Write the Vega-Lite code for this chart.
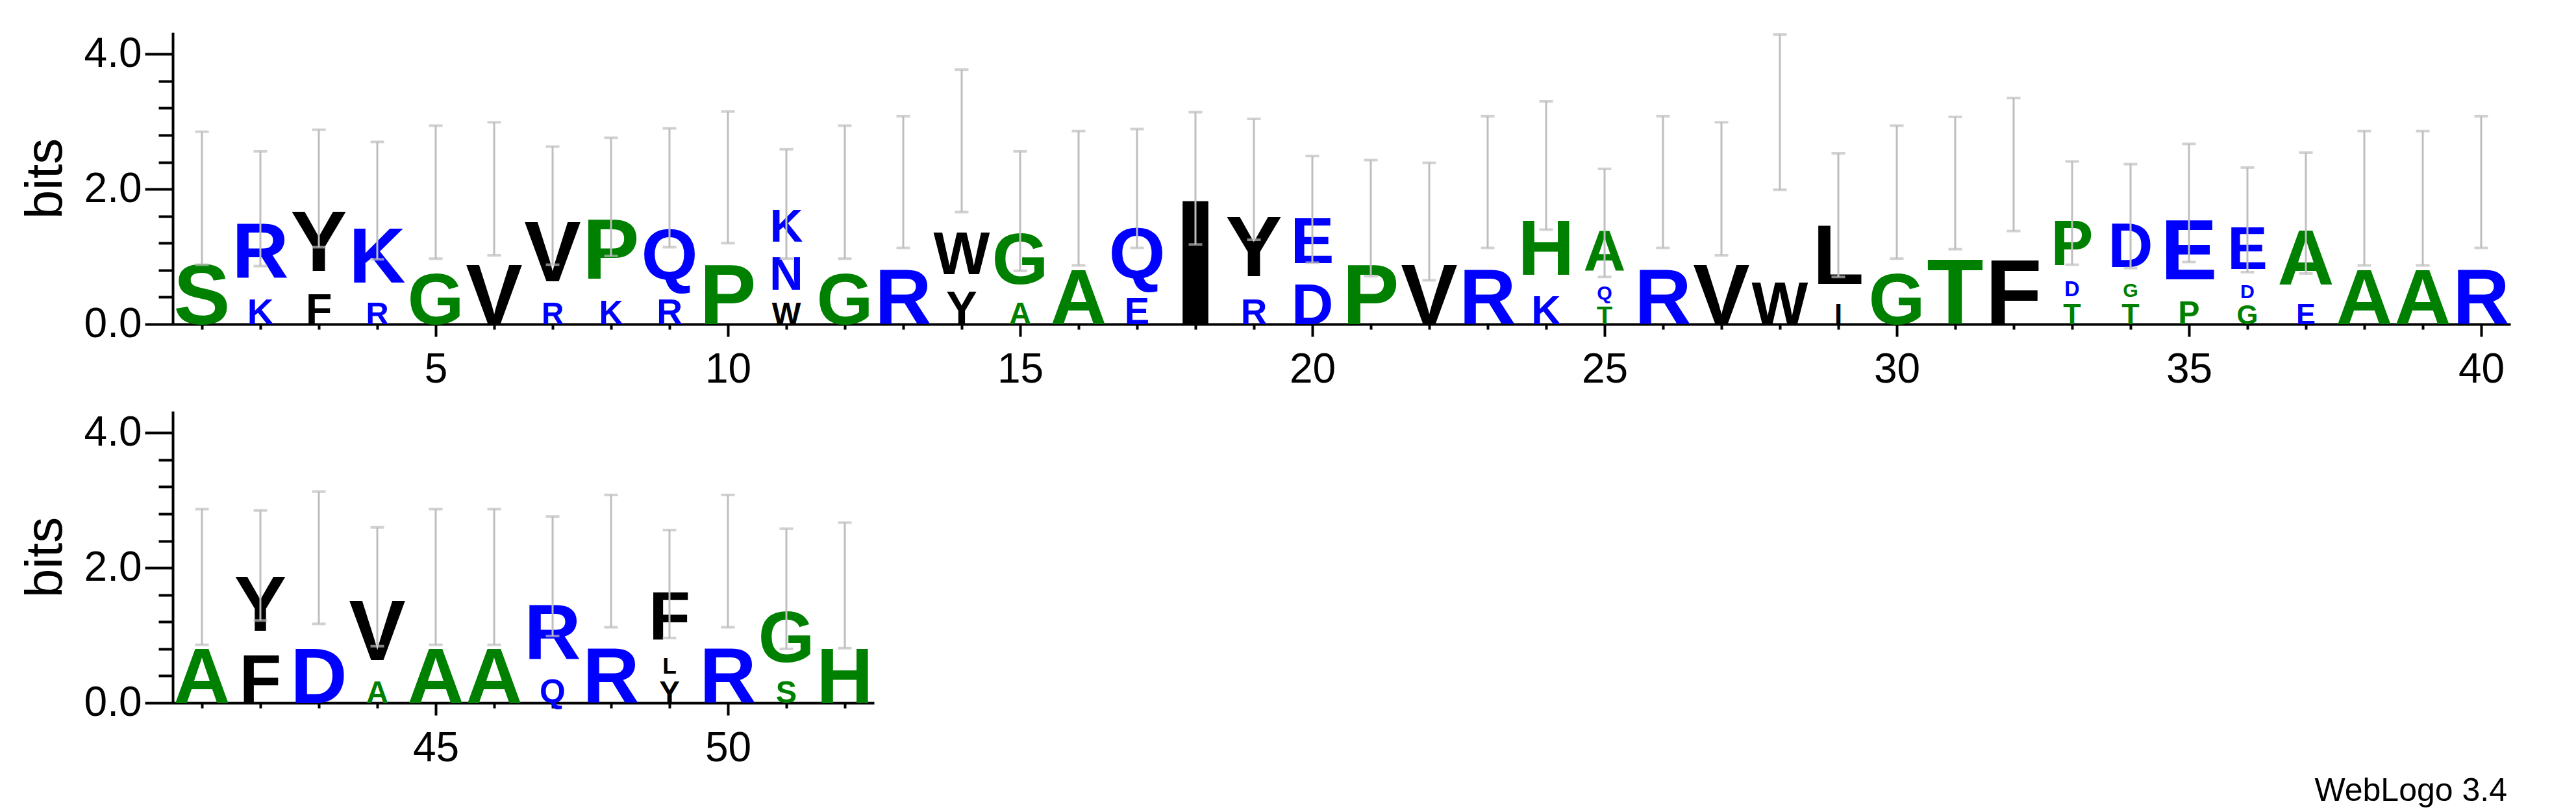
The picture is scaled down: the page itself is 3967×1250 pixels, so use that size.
{
  "$schema": "https://vega.github.io/schema/vega-lite/v6.json",
  "autosize": {"type": "none"},
  "padding": {"left": 266, "top": 50, "right": 3701, "bottom": 1200},
  "background": "white",
  "spacing": 134,
  "bounds": "flush",
  "title": {"text": "WebLogo 3.4", "orient": "bottom", "anchor": "end", "font": "Liberation Sans", "fontSize": 50, "fontWeight": "normal", "color": "black", "offset": 9, "dx": -5},
  "config": {
    "view": {"stroke": null},
    "text": {"font": "Liberation Sans", "fontWeight": "bold", "align": "center"},
    "axis": {"domainColor": "black", "domainWidth": 4, "tickColor": "black", "tickWidth": 4, "labelFont": "Liberation Sans", "labelFontSize": 64, "labelColor": "black", "titleFont": "Liberation Sans", "titleFontSize": 80, "titleFontWeight": "normal", "titleColor": "black", "grid": false, "labelFlush": false, "labelOverlap": false}
  },
  "datasets": {
    "letters": [
      {"pos":1,"letter":"S","bits":1.86,"rank":1},
      {"pos":2,"letter":"K","bits":0.44,"rank":1},{"pos":2,"letter":"R","bits":1.27,"rank":2},
      {"pos":3,"letter":"F","bits":0.52,"rank":1},{"pos":3,"letter":"Y","bits":1.48,"rank":2},
      {"pos":4,"letter":"R","bits":0.38,"rank":1},{"pos":4,"letter":"K","bits":1.44,"rank":2},
      {"pos":5,"letter":"G","bits":1.95,"rank":1},
      {"pos":6,"letter":"V","bits":2.0,"rank":1},
      {"pos":7,"letter":"R","bits":0.37,"rank":1},{"pos":7,"letter":"V","bits":1.38,"rank":2},
      {"pos":8,"letter":"K","bits":0.40,"rank":1},{"pos":8,"letter":"P","bits":1.48,"rank":2},
      {"pos":9,"letter":"R","bits":0.43,"rank":1},{"pos":9,"letter":"Q","bits":1.59,"rank":2},
      {"pos":10,"letter":"P","bits":2.17,"rank":1},
      {"pos":11,"letter":"W","bits":0.37,"rank":1},{"pos":11,"letter":"N","bits":0.71,"rank":2},{"pos":11,"letter":"K","bits":0.70,"rank":3},
      {"pos":12,"letter":"G","bits":1.95,"rank":1},
      {"pos":13,"letter":"R","bits":2.10,"rank":1},
      {"pos":14,"letter":"Y","bits":0.56,"rank":1},{"pos":14,"letter":"W","bits":2.16,"rank":2},
      {"pos":15,"letter":"A","bits":0.37,"rank":1},{"pos":15,"letter":"G","bits":1.30,"rank":2},
      {"pos":16,"letter":"A","bits":1.86,"rank":1},
      {"pos":17,"letter":"E","bits":0.45,"rank":1},{"pos":17,"letter":"Q","bits":1.56,"rank":2},
      {"pos":18,"letter":"I","bits":2.15,"rank":1},
      {"pos":19,"letter":"R","bits":0.44,"rank":1},{"pos":19,"letter":"Y","bits":1.70,"rank":2},
      {"pos":20,"letter":"D","bits":0.70,"rank":1},{"pos":20,"letter":"E","bits":1.00,"rank":2},
      {"pos":21,"letter":"P","bits":1.57,"rank":1},
      {"pos":22,"letter":"V","bits":1.52,"rank":1},
      {"pos":23,"letter":"R","bits":2.11,"rank":1},
      {"pos":24,"letter":"K","bits":0.49,"rank":1},{"pos":24,"letter":"H","bits":1.86,"rank":2},
      {"pos":25,"letter":"T","bits":0.31,"rank":1},{"pos":25,"letter":"Q","bits":0.30,"rank":2},{"pos":25,"letter":"A","bits":0.89,"rank":3},
      {"pos":26,"letter":"R","bits":2.11,"rank":1},
      {"pos":27,"letter":"V","bits":2.01,"rank":1},
      {"pos":28,"letter":"W","bits":3.14,"rank":1},
      {"pos":29,"letter":"I","bits":0.34,"rank":1},{"pos":29,"letter":"L","bits":1.28,"rank":2},
      {"pos":30,"letter":"G","bits":1.95,"rank":1},
      {"pos":31,"letter":"T","bits":2.09,"rank":1},
      {"pos":32,"letter":"F","bits":2.35,"rank":1},
      {"pos":33,"letter":"T","bits":0.35,"rank":1},{"pos":33,"letter":"D","bits":0.32,"rank":2},{"pos":33,"letter":"P","bits":0.97,"rank":3},
      {"pos":34,"letter":"T","bits":0.35,"rank":1},{"pos":34,"letter":"G","bits":0.30,"rank":2},{"pos":34,"letter":"D","bits":0.95,"rank":3},
      {"pos":35,"letter":"P","bits":0.39,"rank":1},{"pos":35,"letter":"E","bits":1.41,"rank":2},
      {"pos":36,"letter":"G","bits":0.33,"rank":1},{"pos":36,"letter":"D","bits":0.30,"rank":2},{"pos":36,"letter":"E","bits":0.92,"rank":3},
      {"pos":37,"letter":"E","bits":0.35,"rank":1},{"pos":37,"letter":"A","bits":1.29,"rank":2},
      {"pos":38,"letter":"A","bits":1.86,"rank":1},
      {"pos":39,"letter":"A","bits":1.86,"rank":1},
      {"pos":40,"letter":"R","bits":2.11,"rank":1},
      {"pos":41,"letter":"A","bits":1.86,"rank":1},
      {"pos":42,"letter":"F","bits":0.83,"rank":1},{"pos":42,"letter":"Y","bits":1.20,"rank":2},
      {"pos":43,"letter":"D","bits":2.15,"rank":1},
      {"pos":44,"letter":"A","bits":0.37,"rank":1},{"pos":44,"letter":"V","bits":1.35,"rank":2},
      {"pos":45,"letter":"A","bits":1.86,"rank":1},
      {"pos":46,"letter":"A","bits":1.86,"rank":1},
      {"pos":47,"letter":"Q","bits":0.40,"rank":1},{"pos":47,"letter":"R","bits":1.48,"rank":2},
      {"pos":48,"letter":"R","bits":2.10,"rank":1},
      {"pos":49,"letter":"Y","bits":0.37,"rank":1},{"pos":49,"letter":"L","bits":0.35,"rank":2},{"pos":49,"letter":"F","bits":1.04,"rank":3},
      {"pos":50,"letter":"R","bits":2.10,"rank":1},
      {"pos":51,"letter":"S","bits":0.38,"rank":1},{"pos":51,"letter":"G","bits":1.31,"rank":2},
      {"pos":52,"letter":"H","bits":1.74,"rank":1}
    ],
    "errs": [
      {"pos":1,"lo":0.88,"hi":2.85},{"pos":2,"lo":0.86,"hi":2.56},{"pos":3,"lo":1.14,"hi":2.88},{"pos":4,"lo":0.96,"hi":2.70},
      {"pos":5,"lo":0.97,"hi":2.94},{"pos":6,"lo":1.02,"hi":2.99},{"pos":7,"lo":0.88,"hi":2.63},{"pos":8,"lo":1.01,"hi":2.76},
      {"pos":9,"lo":1.14,"hi":2.90},{"pos":10,"lo":1.20,"hi":3.15},{"pos":11,"lo":0.97,"hi":2.59},{"pos":12,"lo":0.97,"hi":2.94},
      {"pos":13,"lo":1.13,"hi":3.08},{"pos":14,"lo":1.66,"hi":3.77},{"pos":15,"lo":0.79,"hi":2.56},{"pos":16,"lo":0.87,"hi":2.86},
      {"pos":17,"lo":1.13,"hi":2.89},{"pos":18,"lo":1.18,"hi":3.14},{"pos":19,"lo":1.25,"hi":3.04},{"pos":20,"lo":0.91,"hi":2.49},
      {"pos":21,"lo":0.71,"hi":2.43},{"pos":22,"lo":0.65,"hi":2.39},{"pos":23,"lo":1.13,"hi":3.08},{"pos":24,"lo":1.40,"hi":3.30},
      {"pos":25,"lo":0.70,"hi":2.30},{"pos":26,"lo":1.13,"hi":3.08},{"pos":27,"lo":1.02,"hi":2.99},{"pos":28,"lo":1.99,"hi":4.29},
      {"pos":29,"lo":0.70,"hi":2.53},{"pos":30,"lo":0.97,"hi":2.94},{"pos":31,"lo":1.11,"hi":3.07},{"pos":32,"lo":1.38,"hi":3.35},
      {"pos":33,"lo":0.88,"hi":2.41},{"pos":34,"lo":0.83,"hi":2.37},{"pos":35,"lo":0.92,"hi":2.67},{"pos":36,"lo":0.77,"hi":2.32},
      {"pos":37,"lo":0.75,"hi":2.54},{"pos":38,"lo":0.87,"hi":2.86},{"pos":39,"lo":0.87,"hi":2.86},{"pos":40,"lo":1.13,"hi":3.08},
      {"pos":41,"lo":0.86,"hi":2.87},{"pos":42,"lo":1.22,"hi":2.85},{"pos":43,"lo":1.17,"hi":3.13},{"pos":44,"lo":0.84,"hi":2.60},
      {"pos":45,"lo":0.86,"hi":2.87},{"pos":46,"lo":0.86,"hi":2.87},{"pos":47,"lo":0.99,"hi":2.76},{"pos":48,"lo":1.12,"hi":3.08},
      {"pos":49,"lo":0.96,"hi":2.56},{"pos":50,"lo":1.12,"hi":3.08},{"pos":51,"lo":0.80,"hi":2.58},{"pos":52,"lo":0.81,"hi":2.67}
    ]
  },
  "vconcat": [
    {
      "width": 3600,
      "height": 449,
      "resolve": {"scale": {"size": "independent"}},
      "layer": [
        {
          "data": {"name": "errs"},
          "transform": [{"filter": "datum.pos <= 40"}],
          "mark": {"type": "rule", "color": "#ffffff", "strokeWidth": 0, "opacity": 0},
          "encoding": {
            "x": {"field": "pos", "type": "quantitative", "scale": {"domain": [0.5, 40.5], "nice": false, "zero": false},
                  "axis": {"title": null, "format": "d", "values": [1,2,3,4,5,6,7,8,9,10,11,12,13,14,15,16,17,18,19,20,21,22,23,24,25,26,27,28,29,30,31,32,33,34,35,36,37,38,39,40],
                           "labelExpr": "datum.value % 5 === 0 ? datum.label : ''",
                           "tickSize": {"condition": {"test": "datum.value % 5 === 0", "value": 19}, "value": 8},
                           "labelPadding": 19}},
            "y": {"field": "lo", "type": "quantitative", "scale": {"domain": [0, 4.32], "nice": false},
                  "axis": {"title": "bits", "values": [0,0.2,0.4,0.6,0.8,1,1.2,1.4,1.6,1.8,2,2.2,2.4,2.6,2.8,3,3.2,3.4,3.6,3.8,4,4.2],
                           "labelExpr": "datum.value % 1 === 0 ? format(datum.value, '.1f') : ''",
                           "tickSize": {"condition": {"test": "datum.value % 1 === 0", "value": 43}, "value": 22},
                           "labelPadding": 5, "titlePadding": 18}},
            "y2": {"field": "lo"}
          }
        },
        {
          "data": {"name": "letters"},
          "transform": [{"filter": "datum.pos <= 40"}, {"stack": "bits", "groupby": ["pos"], "sort": [{"field": "rank", "order": "ascending"}], "as": ["b0", "b1"]}, {"filter": {"field": "letter", "oneOf": ["W"]}}, {"filter": "datum.rank == 1"}],
          "mark": {"type": "text", "baseline": "alphabetic"},
          "encoding": {
            "x": {"field": "pos", "type": "quantitative"}, "y": {"field": "b0", "type": "quantitative"}, "text": {"field": "letter", "type": "nominal"},
            "color": {"field": "letter", "type": "nominal", "legend": null, "scale": {"domain": ["A","D","E","F","G","H","I","K","L","N","P","Q","R","S","T","V","W","Y"], "range": ["#008000","#0000ff","#0000ff","#000000","#008000","#008000","#000000","#0000ff","#000000","#0000ff","#008000","#0000ff","#0000ff","#008000","#008000","#000000","#000000","#000000"]}},
            "size": {"field": "bits", "type": "quantitative", "legend": null, "scale": {"domain": [0, 0.719], "range": [0, 92], "clamp": true}}
          }
        },
        {
          "data": {"name": "letters"},
          "transform": [{"filter": "datum.pos <= 40"}, {"stack": "bits", "groupby": ["pos"], "sort": [{"field": "rank", "order": "ascending"}], "as": ["b0", "b1"]}, {"filter": {"field": "letter", "oneOf": ["W"]}}, {"filter": "datum.rank > 1"}],
          "mark": {"type": "text", "baseline": "bottom"},
          "encoding": {
            "x": {"field": "pos", "type": "quantitative"}, "y": {"field": "b0", "type": "quantitative"}, "text": {"field": "letter", "type": "nominal"},
            "color": {"field": "letter", "type": "nominal", "legend": null, "scale": {"domain": ["A","D","E","F","G","H","I","K","L","N","P","Q","R","S","T","V","W","Y"], "range": ["#008000","#0000ff","#0000ff","#000000","#008000","#008000","#000000","#0000ff","#000000","#0000ff","#008000","#0000ff","#0000ff","#008000","#008000","#000000","#000000","#000000"]}},
            "size": {"field": "bits", "type": "quantitative", "legend": null, "scale": {"domain": [0, 0.911], "range": [0, 92], "clamp": true}}
          }
        },
        {
          "data": {"name": "letters"},
          "transform": [{"filter": "datum.pos <= 40"}, {"stack": "bits", "groupby": ["pos"], "sort": [{"field": "rank", "order": "ascending"}], "as": ["b0", "b1"]}, {"filter": {"field": "letter", "oneOf": ["G","Q"]}}, {"filter": "datum.rank == 1"}],
          "mark": {"type": "text", "baseline": "alphabetic"},
          "encoding": {
            "x": {"field": "pos", "type": "quantitative"}, "y": {"field": "b0", "type": "quantitative"}, "text": {"field": "letter", "type": "nominal"},
            "color": {"field": "letter", "type": "nominal", "legend": null, "scale": {"domain": ["A","D","E","F","G","H","I","K","L","N","P","Q","R","S","T","V","W","Y"], "range": ["#008000","#0000ff","#0000ff","#000000","#008000","#008000","#000000","#0000ff","#000000","#0000ff","#008000","#0000ff","#0000ff","#008000","#008000","#000000","#000000","#000000"]}},
            "size": {"field": "bits", "type": "quantitative", "legend": null, "scale": {"domain": [0, 0.875], "range": [0, 112], "clamp": true}}
          }
        },
        {
          "data": {"name": "letters"},
          "transform": [{"filter": "datum.pos <= 40"}, {"stack": "bits", "groupby": ["pos"], "sort": [{"field": "rank", "order": "ascending"}], "as": ["b0", "b1"]}, {"filter": {"field": "letter", "oneOf": ["G","Q"]}}, {"filter": "datum.rank > 1"}],
          "mark": {"type": "text", "baseline": "bottom"},
          "encoding": {
            "x": {"field": "pos", "type": "quantitative"}, "y": {"field": "b0", "type": "quantitative"}, "text": {"field": "letter", "type": "nominal"},
            "color": {"field": "letter", "type": "nominal", "legend": null, "scale": {"domain": ["A","D","E","F","G","H","I","K","L","N","P","Q","R","S","T","V","W","Y"], "range": ["#008000","#0000ff","#0000ff","#000000","#008000","#008000","#000000","#0000ff","#000000","#0000ff","#008000","#0000ff","#0000ff","#008000","#008000","#000000","#000000","#000000"]}},
            "size": {"field": "bits", "type": "quantitative", "legend": null, "scale": {"domain": [0, 1.109], "range": [0, 112], "clamp": true}}
          }
        },
        {
          "data": {"name": "letters"},
          "transform": [{"filter": "datum.pos <= 40"}, {"stack": "bits", "groupby": ["pos"], "sort": [{"field": "rank", "order": "ascending"}], "as": ["b0", "b1"]}, {"filter": {"field": "letter", "oneOf": ["A","D","H","K","N","R"]}}, {"filter": "datum.rank == 1"}],
          "mark": {"type": "text", "baseline": "alphabetic"},
          "encoding": {
            "x": {"field": "pos", "type": "quantitative"}, "y": {"field": "b0", "type": "quantitative"}, "text": {"field": "letter", "type": "nominal"},
            "color": {"field": "letter", "type": "nominal", "legend": null, "scale": {"domain": ["A","D","E","F","G","H","I","K","L","N","P","Q","R","S","T","V","W","Y"], "range": ["#008000","#0000ff","#0000ff","#000000","#008000","#008000","#000000","#0000ff","#000000","#0000ff","#008000","#0000ff","#0000ff","#008000","#008000","#000000","#000000","#000000"]}},
            "size": {"field": "bits", "type": "quantitative", "legend": null, "scale": {"domain": [0, 0.945], "range": [0, 121], "clamp": true}}
          }
        },
        {
          "data": {"name": "letters"},
          "transform": [{"filter": "datum.pos <= 40"}, {"stack": "bits", "groupby": ["pos"], "sort": [{"field": "rank", "order": "ascending"}], "as": ["b0", "b1"]}, {"filter": {"field": "letter", "oneOf": ["A","D","H","K","N","R"]}}, {"filter": "datum.rank > 1"}],
          "mark": {"type": "text", "baseline": "bottom"},
          "encoding": {
            "x": {"field": "pos", "type": "quantitative"}, "y": {"field": "b0", "type": "quantitative"}, "text": {"field": "letter", "type": "nominal"},
            "color": {"field": "letter", "type": "nominal", "legend": null, "scale": {"domain": ["A","D","E","F","G","H","I","K","L","N","P","Q","R","S","T","V","W","Y"], "range": ["#008000","#0000ff","#0000ff","#000000","#008000","#008000","#000000","#0000ff","#000000","#0000ff","#008000","#0000ff","#0000ff","#008000","#008000","#000000","#000000","#000000"]}},
            "size": {"field": "bits", "type": "quantitative", "legend": null, "scale": {"domain": [0, 1.198], "range": [0, 121], "clamp": true}}
          }
        },
        {
          "data": {"name": "letters"},
          "transform": [{"filter": "datum.pos <= 40"}, {"stack": "bits", "groupby": ["pos"], "sort": [{"field": "rank", "order": "ascending"}], "as": ["b0", "b1"]}, {"filter": {"field": "letter", "oneOf": ["E","P","S","V","Y"]}}, {"filter": "datum.rank == 1"}],
          "mark": {"type": "text", "baseline": "alphabetic"},
          "encoding": {
            "x": {"field": "pos", "type": "quantitative"}, "y": {"field": "b0", "type": "quantitative"}, "text": {"field": "letter", "type": "nominal"},
            "color": {"field": "letter", "type": "nominal", "legend": null, "scale": {"domain": ["A","D","E","F","G","H","I","K","L","N","P","Q","R","S","T","V","W","Y"], "range": ["#008000","#0000ff","#0000ff","#000000","#008000","#008000","#000000","#0000ff","#000000","#0000ff","#008000","#0000ff","#0000ff","#008000","#008000","#000000","#000000","#000000"]}},
            "size": {"field": "bits", "type": "quantitative", "legend": null, "scale": {"domain": [0, 1.023], "range": [0, 131], "clamp": true}}
          }
        },
        {
          "data": {"name": "letters"},
          "transform": [{"filter": "datum.pos <= 40"}, {"stack": "bits", "groupby": ["pos"], "sort": [{"field": "rank", "order": "ascending"}], "as": ["b0", "b1"]}, {"filter": {"field": "letter", "oneOf": ["E","P","S","V","Y"]}}, {"filter": "datum.rank > 1"}],
          "mark": {"type": "text", "baseline": "bottom"},
          "encoding": {
            "x": {"field": "pos", "type": "quantitative"}, "y": {"field": "b0", "type": "quantitative"}, "text": {"field": "letter", "type": "nominal"},
            "color": {"field": "letter", "type": "nominal", "legend": null, "scale": {"domain": ["A","D","E","F","G","H","I","K","L","N","P","Q","R","S","T","V","W","Y"], "range": ["#008000","#0000ff","#0000ff","#000000","#008000","#008000","#000000","#0000ff","#000000","#0000ff","#008000","#0000ff","#0000ff","#008000","#008000","#000000","#000000","#000000"]}},
            "size": {"field": "bits", "type": "quantitative", "legend": null, "scale": {"domain": [0, 1.297], "range": [0, 131], "clamp": true}}
          }
        },
        {
          "data": {"name": "letters"},
          "transform": [{"filter": "datum.pos <= 40"}, {"stack": "bits", "groupby": ["pos"], "sort": [{"field": "rank", "order": "ascending"}], "as": ["b0", "b1"]}, {"filter": {"field": "letter", "oneOf": ["F","L","T"]}}, {"filter": "datum.rank == 1"}],
          "mark": {"type": "text", "baseline": "alphabetic"},
          "encoding": {
            "x": {"field": "pos", "type": "quantitative"}, "y": {"field": "b0", "type": "quantitative"}, "text": {"field": "letter", "type": "nominal"},
            "color": {"field": "letter", "type": "nominal", "legend": null, "scale": {"domain": ["A","D","E","F","G","H","I","K","L","N","P","Q","R","S","T","V","W","Y"], "range": ["#008000","#0000ff","#0000ff","#000000","#008000","#008000","#000000","#0000ff","#000000","#0000ff","#008000","#0000ff","#0000ff","#008000","#008000","#000000","#000000","#000000"]}},
            "size": {"field": "bits", "type": "quantitative", "legend": null, "scale": {"domain": [0, 1.117], "range": [0, 143], "clamp": true}}
          }
        },
        {
          "data": {"name": "letters"},
          "transform": [{"filter": "datum.pos <= 40"}, {"stack": "bits", "groupby": ["pos"], "sort": [{"field": "rank", "order": "ascending"}], "as": ["b0", "b1"]}, {"filter": {"field": "letter", "oneOf": ["F","L","T"]}}, {"filter": "datum.rank > 1"}],
          "mark": {"type": "text", "baseline": "bottom"},
          "encoding": {
            "x": {"field": "pos", "type": "quantitative"}, "y": {"field": "b0", "type": "quantitative"}, "text": {"field": "letter", "type": "nominal"},
            "color": {"field": "letter", "type": "nominal", "legend": null, "scale": {"domain": ["A","D","E","F","G","H","I","K","L","N","P","Q","R","S","T","V","W","Y"], "range": ["#008000","#0000ff","#0000ff","#000000","#008000","#008000","#000000","#0000ff","#000000","#0000ff","#008000","#0000ff","#0000ff","#008000","#008000","#000000","#000000","#000000"]}},
            "size": {"field": "bits", "type": "quantitative", "legend": null, "scale": {"domain": [0, 1.416], "range": [0, 143], "clamp": true}}
          }
        },
        {
          "data": {"name": "letters"},
          "transform": [{"filter": "datum.pos <= 40"}, {"stack": "bits", "groupby": ["pos"], "sort": [{"field": "rank", "order": "ascending"}], "as": ["b0", "b1"]}, {"filter": {"field": "letter", "oneOf": ["I"]}}, {"filter": "datum.rank == 1"}],
          "mark": {"type": "text", "baseline": "alphabetic"},
          "encoding": {
            "x": {"field": "pos", "type": "quantitative"}, "y": {"field": "b0", "type": "quantitative"}, "text": {"field": "letter", "type": "nominal"},
            "color": {"field": "letter", "type": "nominal", "legend": null, "scale": {"domain": ["A","D","E","F","G","H","I","K","L","N","P","Q","R","S","T","V","W","Y"], "range": ["#008000","#0000ff","#0000ff","#000000","#008000","#008000","#000000","#0000ff","#000000","#0000ff","#008000","#0000ff","#0000ff","#008000","#008000","#000000","#000000","#000000"]}},
            "size": {"field": "bits", "type": "quantitative", "legend": null, "scale": {"domain": [0, 2.344], "range": [0, 300], "clamp": true}}
          }
        },
        {
          "data": {"name": "errs"},
          "transform": [{"filter": "datum.pos <= 40"}],
          "mark": {"type": "rule", "color": "#bebebe", "strokeWidth": 3},
          "encoding": {"x": {"field": "pos", "type": "quantitative"}, "y": {"field": "lo", "type": "quantitative"}, "y2": {"field": "hi"}}
        },
        {
          "data": {"name": "errs"},
          "transform": [{"filter": "datum.pos <= 40"}],
          "mark": {"type": "tick", "orient": "horizontal", "color": "#bebebe", "size": 21, "thickness": 4},
          "encoding": {"x": {"field": "pos", "type": "quantitative"}, "y": {"field": "lo", "type": "quantitative"}}
        },
        {
          "data": {"name": "errs"},
          "transform": [{"filter": "datum.pos <= 40"}],
          "mark": {"type": "tick", "orient": "horizontal", "color": "#bebebe", "size": 21, "thickness": 4},
          "encoding": {"x": {"field": "pos", "type": "quantitative"}, "y": {"field": "hi", "type": "quantitative"}}
        }
      ]
    },
    {
      "width": 1080,
      "height": 449,
      "resolve": {"scale": {"size": "independent"}},
      "layer": [
        {
          "data": {"name": "errs"},
          "transform": [{"filter": "datum.pos > 40"}],
          "mark": {"type": "rule", "color": "#ffffff", "strokeWidth": 0, "opacity": 0},
          "encoding": {
            "x": {"field": "pos", "type": "quantitative", "scale": {"domain": [40.5, 52.5], "nice": false, "zero": false},
                  "axis": {"title": null, "format": "d", "values": [41,42,43,44,45,46,47,48,49,50,51,52],
                           "labelExpr": "datum.value % 5 === 0 ? datum.label : ''",
                           "tickSize": {"condition": {"test": "datum.value % 5 === 0", "value": 19}, "value": 8},
                           "labelPadding": 19}},
            "y": {"field": "lo", "type": "quantitative", "scale": {"domain": [0, 4.32], "nice": false},
                  "axis": {"title": "bits", "values": [0,0.2,0.4,0.6,0.8,1,1.2,1.4,1.6,1.8,2,2.2,2.4,2.6,2.8,3,3.2,3.4,3.6,3.8,4,4.2],
                           "labelExpr": "datum.value % 1 === 0 ? format(datum.value, '.1f') : ''",
                           "tickSize": {"condition": {"test": "datum.value % 1 === 0", "value": 43}, "value": 22},
                           "labelPadding": 5, "titlePadding": 18}},
            "y2": {"field": "lo"}
          }
        },
        {
          "data": {"name": "letters"},
          "transform": [{"filter": "datum.pos > 40"}, {"stack": "bits", "groupby": ["pos"], "sort": [{"field": "rank", "order": "ascending"}], "as": ["b0", "b1"]}, {"filter": {"field": "letter", "oneOf": ["G","Q"]}}, {"filter": "datum.rank == 1"}],
          "mark": {"type": "text", "baseline": "alphabetic"},
          "encoding": {
            "x": {"field": "pos", "type": "quantitative"}, "y": {"field": "b0", "type": "quantitative"}, "text": {"field": "letter", "type": "nominal"},
            "color": {"field": "letter", "type": "nominal", "legend": null, "scale": {"domain": ["A","D","E","F","G","H","I","K","L","N","P","Q","R","S","T","V","W","Y"], "range": ["#008000","#0000ff","#0000ff","#000000","#008000","#008000","#000000","#0000ff","#000000","#0000ff","#008000","#0000ff","#0000ff","#008000","#008000","#000000","#000000","#000000"]}},
            "size": {"field": "bits", "type": "quantitative", "legend": null, "scale": {"domain": [0, 0.875], "range": [0, 112], "clamp": true}}
          }
        },
        {
          "data": {"name": "letters"},
          "transform": [{"filter": "datum.pos > 40"}, {"stack": "bits", "groupby": ["pos"], "sort": [{"field": "rank", "order": "ascending"}], "as": ["b0", "b1"]}, {"filter": {"field": "letter", "oneOf": ["G","Q"]}}, {"filter": "datum.rank > 1"}],
          "mark": {"type": "text", "baseline": "bottom"},
          "encoding": {
            "x": {"field": "pos", "type": "quantitative"}, "y": {"field": "b0", "type": "quantitative"}, "text": {"field": "letter", "type": "nominal"},
            "color": {"field": "letter", "type": "nominal", "legend": null, "scale": {"domain": ["A","D","E","F","G","H","I","K","L","N","P","Q","R","S","T","V","W","Y"], "range": ["#008000","#0000ff","#0000ff","#000000","#008000","#008000","#000000","#0000ff","#000000","#0000ff","#008000","#0000ff","#0000ff","#008000","#008000","#000000","#000000","#000000"]}},
            "size": {"field": "bits", "type": "quantitative", "legend": null, "scale": {"domain": [0, 1.109], "range": [0, 112], "clamp": true}}
          }
        },
        {
          "data": {"name": "letters"},
          "transform": [{"filter": "datum.pos > 40"}, {"stack": "bits", "groupby": ["pos"], "sort": [{"field": "rank", "order": "ascending"}], "as": ["b0", "b1"]}, {"filter": {"field": "letter", "oneOf": ["A","D","H","K","N","R"]}}, {"filter": "datum.rank == 1"}],
          "mark": {"type": "text", "baseline": "alphabetic"},
          "encoding": {
            "x": {"field": "pos", "type": "quantitative"}, "y": {"field": "b0", "type": "quantitative"}, "text": {"field": "letter", "type": "nominal"},
            "color": {"field": "letter", "type": "nominal", "legend": null, "scale": {"domain": ["A","D","E","F","G","H","I","K","L","N","P","Q","R","S","T","V","W","Y"], "range": ["#008000","#0000ff","#0000ff","#000000","#008000","#008000","#000000","#0000ff","#000000","#0000ff","#008000","#0000ff","#0000ff","#008000","#008000","#000000","#000000","#000000"]}},
            "size": {"field": "bits", "type": "quantitative", "legend": null, "scale": {"domain": [0, 0.945], "range": [0, 121], "clamp": true}}
          }
        },
        {
          "data": {"name": "letters"},
          "transform": [{"filter": "datum.pos > 40"}, {"stack": "bits", "groupby": ["pos"], "sort": [{"field": "rank", "order": "ascending"}], "as": ["b0", "b1"]}, {"filter": {"field": "letter", "oneOf": ["A","D","H","K","N","R"]}}, {"filter": "datum.rank > 1"}],
          "mark": {"type": "text", "baseline": "bottom"},
          "encoding": {
            "x": {"field": "pos", "type": "quantitative"}, "y": {"field": "b0", "type": "quantitative"}, "text": {"field": "letter", "type": "nominal"},
            "color": {"field": "letter", "type": "nominal", "legend": null, "scale": {"domain": ["A","D","E","F","G","H","I","K","L","N","P","Q","R","S","T","V","W","Y"], "range": ["#008000","#0000ff","#0000ff","#000000","#008000","#008000","#000000","#0000ff","#000000","#0000ff","#008000","#0000ff","#0000ff","#008000","#008000","#000000","#000000","#000000"]}},
            "size": {"field": "bits", "type": "quantitative", "legend": null, "scale": {"domain": [0, 1.198], "range": [0, 121], "clamp": true}}
          }
        },
        {
          "data": {"name": "letters"},
          "transform": [{"filter": "datum.pos > 40"}, {"stack": "bits", "groupby": ["pos"], "sort": [{"field": "rank", "order": "ascending"}], "as": ["b0", "b1"]}, {"filter": {"field": "letter", "oneOf": ["E","P","S","V","Y"]}}, {"filter": "datum.rank == 1"}],
          "mark": {"type": "text", "baseline": "alphabetic"},
          "encoding": {
            "x": {"field": "pos", "type": "quantitative"}, "y": {"field": "b0", "type": "quantitative"}, "text": {"field": "letter", "type": "nominal"},
            "color": {"field": "letter", "type": "nominal", "legend": null, "scale": {"domain": ["A","D","E","F","G","H","I","K","L","N","P","Q","R","S","T","V","W","Y"], "range": ["#008000","#0000ff","#0000ff","#000000","#008000","#008000","#000000","#0000ff","#000000","#0000ff","#008000","#0000ff","#0000ff","#008000","#008000","#000000","#000000","#000000"]}},
            "size": {"field": "bits", "type": "quantitative", "legend": null, "scale": {"domain": [0, 1.023], "range": [0, 131], "clamp": true}}
          }
        },
        {
          "data": {"name": "letters"},
          "transform": [{"filter": "datum.pos > 40"}, {"stack": "bits", "groupby": ["pos"], "sort": [{"field": "rank", "order": "ascending"}], "as": ["b0", "b1"]}, {"filter": {"field": "letter", "oneOf": ["E","P","S","V","Y"]}}, {"filter": "datum.rank > 1"}],
          "mark": {"type": "text", "baseline": "bottom"},
          "encoding": {
            "x": {"field": "pos", "type": "quantitative"}, "y": {"field": "b0", "type": "quantitative"}, "text": {"field": "letter", "type": "nominal"},
            "color": {"field": "letter", "type": "nominal", "legend": null, "scale": {"domain": ["A","D","E","F","G","H","I","K","L","N","P","Q","R","S","T","V","W","Y"], "range": ["#008000","#0000ff","#0000ff","#000000","#008000","#008000","#000000","#0000ff","#000000","#0000ff","#008000","#0000ff","#0000ff","#008000","#008000","#000000","#000000","#000000"]}},
            "size": {"field": "bits", "type": "quantitative", "legend": null, "scale": {"domain": [0, 1.297], "range": [0, 131], "clamp": true}}
          }
        },
        {
          "data": {"name": "letters"},
          "transform": [{"filter": "datum.pos > 40"}, {"stack": "bits", "groupby": ["pos"], "sort": [{"field": "rank", "order": "ascending"}], "as": ["b0", "b1"]}, {"filter": {"field": "letter", "oneOf": ["F","L","T"]}}, {"filter": "datum.rank == 1"}],
          "mark": {"type": "text", "baseline": "alphabetic"},
          "encoding": {
            "x": {"field": "pos", "type": "quantitative"}, "y": {"field": "b0", "type": "quantitative"}, "text": {"field": "letter", "type": "nominal"},
            "color": {"field": "letter", "type": "nominal", "legend": null, "scale": {"domain": ["A","D","E","F","G","H","I","K","L","N","P","Q","R","S","T","V","W","Y"], "range": ["#008000","#0000ff","#0000ff","#000000","#008000","#008000","#000000","#0000ff","#000000","#0000ff","#008000","#0000ff","#0000ff","#008000","#008000","#000000","#000000","#000000"]}},
            "size": {"field": "bits", "type": "quantitative", "legend": null, "scale": {"domain": [0, 1.117], "range": [0, 143], "clamp": true}}
          }
        },
        {
          "data": {"name": "letters"},
          "transform": [{"filter": "datum.pos > 40"}, {"stack": "bits", "groupby": ["pos"], "sort": [{"field": "rank", "order": "ascending"}], "as": ["b0", "b1"]}, {"filter": {"field": "letter", "oneOf": ["F","L","T"]}}, {"filter": "datum.rank > 1"}],
          "mark": {"type": "text", "baseline": "bottom"},
          "encoding": {
            "x": {"field": "pos", "type": "quantitative"}, "y": {"field": "b0", "type": "quantitative"}, "text": {"field": "letter", "type": "nominal"},
            "color": {"field": "letter", "type": "nominal", "legend": null, "scale": {"domain": ["A","D","E","F","G","H","I","K","L","N","P","Q","R","S","T","V","W","Y"], "range": ["#008000","#0000ff","#0000ff","#000000","#008000","#008000","#000000","#0000ff","#000000","#0000ff","#008000","#0000ff","#0000ff","#008000","#008000","#000000","#000000","#000000"]}},
            "size": {"field": "bits", "type": "quantitative", "legend": null, "scale": {"domain": [0, 1.416], "range": [0, 143], "clamp": true}}
          }
        },
        {
          "data": {"name": "errs"},
          "transform": [{"filter": "datum.pos > 40"}],
          "mark": {"type": "rule", "color": "#bebebe", "strokeWidth": 3},
          "encoding": {"x": {"field": "pos", "type": "quantitative"}, "y": {"field": "lo", "type": "quantitative"}, "y2": {"field": "hi"}}
        },
        {
          "data": {"name": "errs"},
          "transform": [{"filter": "datum.pos > 40"}],
          "mark": {"type": "tick", "orient": "horizontal", "color": "#bebebe", "size": 21, "thickness": 4},
          "encoding": {"x": {"field": "pos", "type": "quantitative"}, "y": {"field": "lo", "type": "quantitative"}}
        },
        {
          "data": {"name": "errs"},
          "transform": [{"filter": "datum.pos > 40"}],
          "mark": {"type": "tick", "orient": "horizontal", "color": "#bebebe", "size": 21, "thickness": 4},
          "encoding": {"x": {"field": "pos", "type": "quantitative"}, "y": {"field": "hi", "type": "quantitative"}}
        }
      ]
    }
  ]
}
